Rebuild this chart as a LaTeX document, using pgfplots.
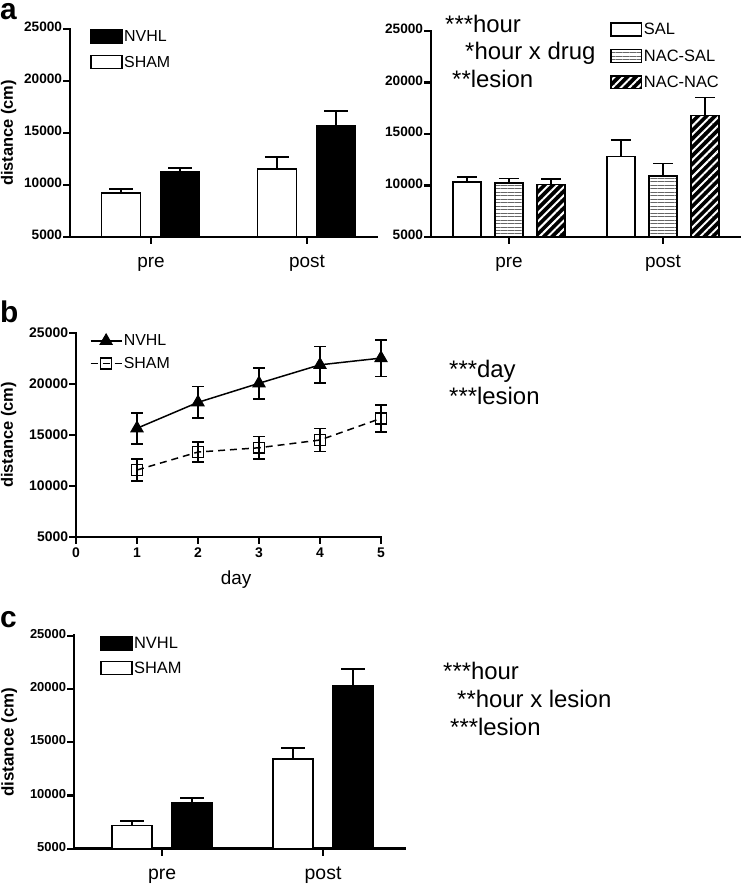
\documentclass[border=0pt]{standalone}
\usepackage{pgfplots}
\pgfplotsset{compat=1.18}
\usepackage{fontspec}
\setmainfont{Liberation Sans}
\usetikzlibrary{patterns.meta}
\newcommand{\fs}[1]{\fontsize{#1}{#1}\selectfont}
\pgfplotsset{
  panel/.style={
    scale only axis, anchor=south west, clip=false,
    axis lines*=left,
    axis line style={line width=2.8pt, black, line cap=rect},
    ymin=5000, ymax=25000, ytick={5000,10000,15000,20000,25000},
    scaled y ticks=false,
    /pgf/number format/1000 sep={},
    /pgf/number format/assume math mode=true,
    tick align=outside,
    major tick length=7pt,
    xtick style={line width=2.4pt, black},
    ytick style={line width=2.4pt, black},
    yticklabel style={font=\bfseries\fs{13.7}, inner sep=0.8pt},
    ylabel={distance (cm)},
    legend cell align=left,
  },
  barlegend/.style={
    legend image code/.code={\draw[##1, line width=1.5pt] (0pt,-6pt) rectangle (31pt,7pt);},
    legend style={draw=none, fill=none, inner sep=0pt, anchor=north west,
      nodes={inner sep=1.5pt}, row sep=10pt, font=\fs{16}},
  },
  errp/.style={error bars/.cd, y dir=plus, y explicit,
    error bar style={line width=1.8pt, black},
    error mark options={rotate=90, line width=1.8pt, black, mark size=#1}},
  wbar/.style={ybar, bar width=#1, bar shift=0pt, fill=white, draw=black, line width=1.5pt, forget plot},
  bbar/.style={ybar, bar width=#1, bar shift=0pt, fill=black, draw=black, line width=1.5pt, forget plot},
}
\tikzset{plet/.style={anchor=base west, inner sep=0, font=\bfseries\fs{30}, text height=16bp}}
\begin{document}
\begin{tikzpicture}
\useasboundingbox (0,0) rectangle (742bp,-886bp);
% ---------------- panel a left ----------------
\node[plet] at (0bp,-19bp) {a};
\begin{axis}[panel, barlegend, at={(70bp,-237bp)}, width=307bp, height=208bp,
  xmin=-0.52, xmax=1.449, xtick={0,1}, xticklabels={pre,post},
  typeset ticklabels with strut,
  xticklabel style={font=\fs{19}, yshift=-7pt},
  ylabel style={font=\bfseries\fs{16.5}, at={(axis description cs:-0.2,0.5)}, anchor=center},
  legend style={at={(rel axis cs:0.0656,1.0)}}]
\addlegendimage{fill=black, draw=black}\addlegendentry{NVHL}
\addlegendimage{fill=white, draw=black}\addlegendentry{SHAM}
\addplot[bbar=39pt, errp=12pt]
  coordinates {(0.186,11250) +- (0,380) (1.186,15670) +- (0,1430)};
\addplot[wbar=39pt, errp=12pt]
  coordinates {(-0.193,9230) +- (0,370) (0.807,11540) +- (0,1150)};
\end{axis}
% ---------------- panel a right ----------------
\node[anchor=base west, inner sep=0, font=\fs{24}] at (445bp,-32bp) {***hour};
\node[anchor=base west, inner sep=0, font=\fs{24}] at (465bp,-59bp) {*hour x drug};
\node[anchor=base west, inner sep=0, font=\fs{24}] at (452bp,-87bp) {**lesion};
\begin{axis}[panel, barlegend, at={(431bp,-237bp)}, width=309bp, height=206bp,
  xmin=-0.506, xmax=1.5, xtick={0,1}, xticklabels={pre,post},
  typeset ticklabels with strut,
  xticklabel style={font=\fs{19}, yshift=-7pt},
  ylabel={},
  legend style={at={(rel axis cs:0.579,1.045)}, font=\fs{16.5}, row sep=10.5pt}]
\addlegendimage{fill=white, draw=black}\addlegendentry{SAL}
\addlegendimage{fill=white, draw=black, postaction={pattern={Lines[angle=0,distance=3.5pt,line width=0.9pt]}, pattern color=black!60}}\addlegendentry{NAC-SAL}
\addlegendimage{fill=black, draw=black, postaction={pattern={Lines[angle=45,distance=6pt,line width=2pt]}, pattern color=white}}\addlegendentry{NAC-NAC}
\addplot[wbar=28pt, errp=10pt]
  coordinates {(-0.273,10320) +- (0,480) (0.727,12840) +- (0,1550)};
\addplot[wbar=28pt, errp=10pt]
  coordinates {(0,10260) +- (0,420) (1,10900) +- (0,1230)};
\addplot[ybar, bar width=28pt, bar shift=0pt, draw=black, line width=1.5pt, forget plot,
  pattern={Lines[angle=0,distance=3.5pt,line width=0.9pt]}, pattern color=black!60]
  coordinates {(0,10260) (1,10900)};
\addplot[bbar=28pt, errp=10pt]
  coordinates {(0.273,10100) +- (0,500) (1.273,16800) +- (0,1750)};
\addplot[ybar, bar width=28pt, bar shift=0pt, draw=black, line width=1.5pt, forget plot,
  pattern={Lines[angle=45,distance=6pt,line width=2pt]}, pattern color=white]
  coordinates {(0.273,10100) (1.273,16800)};
\end{axis}
% ---------------- panel b ----------------
\node[plet] at (0bp,-322bp) {b};
\node[anchor=base west, inner sep=0, font=\fs{24}] at (449bp,-377bp) {***day};
\node[anchor=base west, inner sep=0, font=\fs{24}] at (449bp,-404bp) {***lesion};
\begin{axis}[panel, at={(76bp,-537bp)}, width=305bp, height=204bp,
  xmin=0, xmax=5, xtick={0,1,2,3,4,5},
  xticklabel style={font=\bfseries\fs{14}},
  yticklabel style={font=\bfseries\fs{14}},
  xlabel={day},
  xlabel style={font=\fs{19}, at={(axis description cs:0.525,0)}, anchor=base, yshift=-48pt},
  ylabel style={font=\bfseries\fs{16.5}, at={(axis description cs:-0.221,0.5)}, anchor=center},
  legend image code/.code={\draw[#1, mark repeat=2, mark phase=2] plot coordinates {(0pt,0pt) (15.5pt,0pt) (31pt,0pt)};},
  legend style={draw=none, fill=none, inner sep=0pt, anchor=north west,
    nodes={inner sep=1.5pt}, row sep=7pt, font=\fs{16},
    at={(rel axis cs:0.045,1.0)}}]
\addplot[black, line width=1.5pt, mark=triangle*, mark size=7pt, mark options={solid, fill=black, line width=1pt},
  error bars/.cd, y dir=both, y explicit,
  error bar style={line width=1.5pt, solid, black},
  error mark options={rotate=90, line width=1.5pt, black, mark size=6pt, solid}]
  coordinates {(1,15660) +- (0,1520) (2,18200) +- (0,1550) (3,20070) +- (0,1520) (4,21880) +- (0,1780) (5,22540) +- (0,1780)};
\addplot[black, line width=1.5pt, dash pattern=on 7pt off 5pt, mark=square, mark size=5.5pt, mark options={solid, line width=1.5pt},
  error bars/.cd, y dir=both, y explicit,
  error bar style={line width=1.5pt, solid, black},
  error mark options={rotate=90, line width=1.5pt, black, mark size=6pt, solid}]
  coordinates {(1,11570) +- (0,1100) (2,13330) +- (0,1000) (3,13750) +- (0,1080) (4,14510) +- (0,1150) (5,16630) +- (0,1320)};
\legend{NVHL,SHAM}
\end{axis}
% ---------------- panel c ----------------
\node[plet] at (0bp,-627bp) {c};
\node[anchor=base west, inner sep=0, font=\fs{24}] at (443bp,-679bp) {***hour};
\node[anchor=base west, inner sep=0, font=\fs{24}] at (457bp,-707bp) {**hour x lesion};
\node[anchor=base west, inner sep=0, font=\fs{24}] at (450bp,-735bp) {***lesion};
\begin{axis}[panel, barlegend, at={(74bp,-848.7bp)}, width=331bp, height=213bp,
  xmin=-0.547, xmax=1.509, xtick={0,1}, xticklabels={pre,post},
  typeset ticklabels with strut,
  xticklabel style={font=\fs{19.5}, yshift=-7pt},
  yticklabel style={font=\bfseries\fs{13}},
  ylabel style={font=\bfseries\fs{17}, at={(axis description cs:-0.196,0.5)}, anchor=center},
  legend style={at={(rel axis cs:0.0785,1.0)}, font=\fs{16.5}, row sep=9pt}]
\addlegendimage{fill=black, draw=black}\addlegendentry{NVHL}
\addlegendimage{fill=white, draw=black}\addlegendentry{SHAM}
\addplot[bbar=40pt, errp=12pt]
  coordinates {(0.186,9320) +- (0,470) (1.186,20280) +- (0,1620)};
\addplot[wbar=40pt, errp=12pt]
  coordinates {(-0.186,7160) +- (0,440) (0.814,13420) +- (0,1060)};
\end{axis}
\end{tikzpicture}
\end{document}
